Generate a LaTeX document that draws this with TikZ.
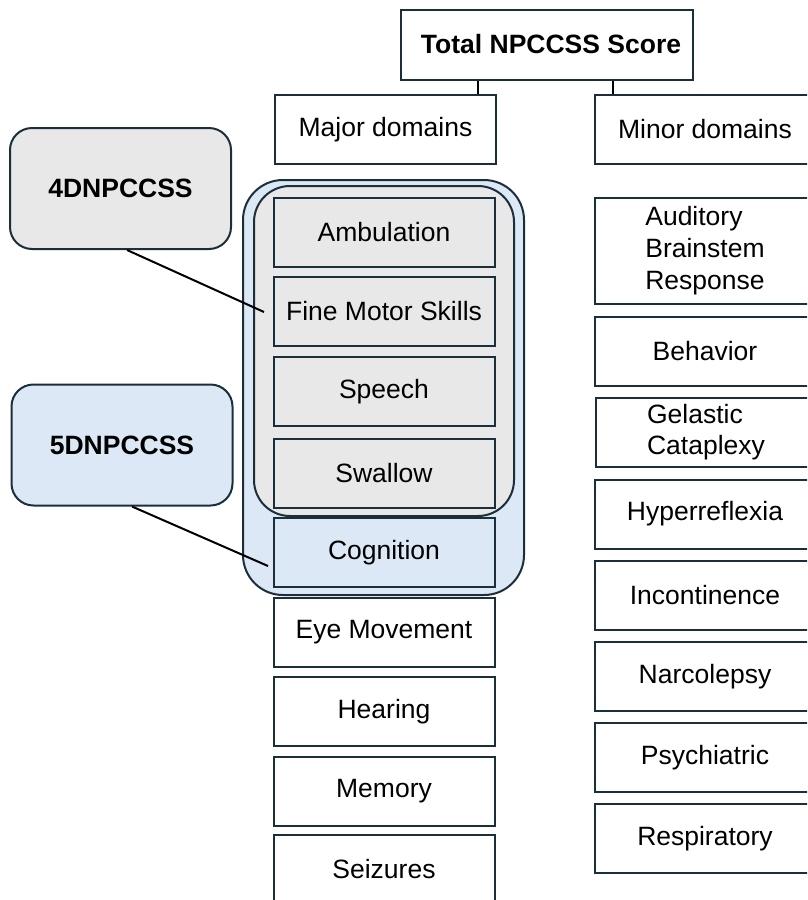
\documentclass[tikz,border=0pt]{standalone}
\usepackage{fontspec}
\setmainfont{Liberation Sans}
\definecolor{edge}{HTML}{1B2F3B}
\definecolor{greyfill}{HTML}{E8E8E8}
\definecolor{bluefill}{HTML}{DCE8F5}
\begin{document}
\begin{tikzpicture}[x=1pt,y=-1pt,
  font=\fontsize{26.5}{32}\selectfont,
  box/.style={draw=edge,line width=2pt,fill=white,minimum width=221pt,
    minimum height=69pt,inner sep=0pt,text=black,align=center},
  greybox/.style={box,fill=greyfill},
  bluebox/.style={box,fill=bluefill},
  tag/.style={draw=edge,line width=2pt,rounded corners=22pt,minimum width=221pt,
    minimum height=121pt,inner sep=0pt,font=\fontsize{26.5}{32}\selectfont\bfseries},
  link/.style={draw=black,line width=2pt}]
\useasboundingbox (0,0) rectangle (807,900);
\clip (0,0) rectangle (807,900);

% score tree: root and the two domain headings
\node[box,minimum width=292pt,minimum height=70pt] (total) at (547,45) {};
\node[font=\fontsize{26.5}{32}\selectfont\bfseries] (totaltxt) at (551,44) {Total NPCCSS Score};
\node[box] (major) at (385.5,129.5) {Major domains};
\node[box] (minor) at (705,129.5) {Minor domains};
\draw[link] (total.south -| 478,0) -- (major.north -| 478,0);
\draw[link] (total.south -| 613,0) -- (minor.north -| 613,0);

% groupings of the major domains
\draw[draw=edge,line width=2pt,fill=bluefill,rounded corners=40pt] (243,180) rectangle (524,595);
\draw[draw=edge,line width=2pt,fill=greyfill,rounded corners=36pt] (254,186) rectangle (514,516);

% major domains
\node[greybox] (amb)   at (384,232) {Ambulation};
\node[greybox] (fms)   at (384,311.5) {Fine Motor Skills};
\node[greybox] (spe)   at (384,391.5) {Speech};
\node[greybox] (swa)   at (384,473) {Swallow};
\node[bluebox] (cog)   at (384,552.5) {Cognition};
\node[box]     (eye)   at (384,632) {Eye Movement};
\node[box]     (hea)   at (384,711.5) {Hearing};
\node[box]     (mem)   at (384,791) {Memory};
\node[box,minimum height=100pt] (sei) at (384,885) {};
\node (seitxt) at (384,869) {Seizures};

% minor domains
\node[box,minimum height=106pt,align=left] (abr) at (705,251) {Auditory\\Brainstem\\Response};
\node[box] (beh) at (705,351) {Behavior};
\node[box,align=left,font=\fontsize{26.5}{31}\selectfont] (gel) at (706,432.5) {Gelastic\\Cataplexy};
\node[box] (hyp) at (705,514) {Hyperreflexia};
\node[box] (inc) at (705,595.5) {Incontinence};
\node[box] (nar) at (705,676.5) {Narcolepsy};
\node[box] (psy) at (705,757.5) {Psychiatric};
\node[box] (res) at (705,838.5) {Respiratory};

% score variants
\node[tag,fill=greyfill] (d4) at (120.5,188.5) {4DNPCCSS};
\node[tag,fill=bluefill] (d5) at (122,445) {5DNPCCSS};
\coordinate (p4) at (264,312);
\coordinate (p5) at (268,566);
\draw[link] (d4.south -| 127,0) -- (p4);
\draw[link] (d5.south -| 132,0) -- (p5);
\end{tikzpicture}
\end{document}
